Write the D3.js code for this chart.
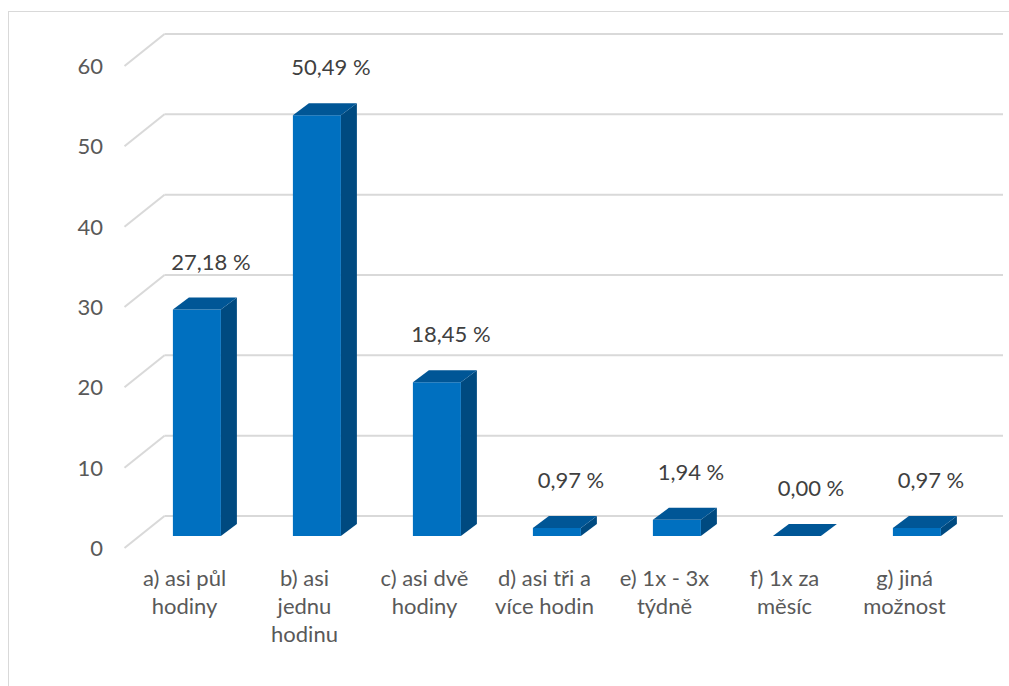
<!DOCTYPE html>
<html>
<head>
<meta charset="utf-8">
<script src="https://cdn.jsdelivr.net/npm/d3@7"></script>
<style>
  body { margin: 0; background: #fff; }
  text { font-family: Lato, "Open Sans", sans-serif; }
</style>
</head>
<body>
<script>
// data
var categories = ["a) asi půl hodiny", "b) asi jednu hodinu", "c) asi dvě hodiny",
    "d) asi tři a více hodin", "e) 1x - 3x týdně", "f) 1x za měsíc", "g) jiná možnost"];
var values = [27.18, 50.49, 18.45, 0.97, 1.94, 0.00, 0.97];
var yTicks = [0, 10, 20, 30, 40, 50, 60];

var svg = d3.select("body")
    .append("svg")
    .attr("width", 1009)
    .attr("height", 686)
    .style("display", "block");

// outer chart border
svg.append("rect")
    .attr("x", 8.5).attr("y", 11.5)
    .attr("width", 1020).attr("height", 700)
    .attr("fill", "none")
    .attr("stroke", "#d9d9d9")
    .attr("stroke-width", 1);

// 3d setup: wall depth vector and bar depth
var wallDx = 40, wallDy = -32;
var barZ = 0.31;          // front face of bars, fraction of floor depth
var barDx = 16, barDy = -12;

var x = d3.scaleBand()
    .domain(categories)
    .range([124.5, 964.5])
    .paddingInner(0.6)
    .paddingOuter(0.3);

// back wall scale
var yWall = d3.scaleLinear().domain([0, 60]).range([516, 34]);
// bar front face scale (slightly bigger, closer to viewer)
var yBar = d3.scaleLinear().domain([0, 60]).range([536, 36]);

// gridlines
var grid = svg.append("g");
grid.selectAll(".gback")
    .data(yTicks)
    .enter()
    .append("line")
    .attr("x1", 124.5 + wallDx)
    .attr("x2", 1003)
    .attr("y1", function (d) { return yWall(d); })
    .attr("y2", function (d) { return yWall(d); })
    .attr("stroke", "#d9d9d9")
    .attr("stroke-width", 2);

grid.selectAll(".gside")
    .data(yTicks)
    .enter()
    .append("line")
    .attr("x1", 124.5)
    .attr("x2", 124.5 + wallDx)
    .attr("y1", function (d) { return yWall(d) - wallDy; })
    .attr("y2", function (d) { return yWall(d); })
    .attr("stroke", "#d9d9d9")
    .attr("stroke-width", 2);

// y labels
svg.selectAll(".ylab")
    .data(yTicks)
    .enter()
    .append("text")
    .attr("x", 103)
    .attr("y", function (d) { return yWall(d) - wallDy + 8; })
    .attr("text-anchor", "end")
    .attr("fill", "#595959")
    .style("font-size", "22px")
    .text(function (d) { return d; });

// bars
var bars = svg.append("g").selectAll("g")
    .data(values)
    .enter()
    .append("g");

function fx(i) { return x(categories[i]) + barZ * wallDx; }
var bw = x.bandwidth();
var base = yBar(0);

// side face
bars.append("path")
    .attr("d", function (d, i) {
        var x1 = fx(i) + bw, t = yBar(d);
        return "M" + x1 + "," + t + "L" + (x1 + barDx) + "," + (t + barDy) +
            "L" + (x1 + barDx) + "," + (base + barDy) + "L" + x1 + "," + base + "Z";
    })
    .attr("fill", "#004a80");

// front face
bars.append("rect")
    .attr("x", function (d, i) { return fx(i); })
    .attr("y", function (d) { return yBar(d); })
    .attr("width", bw)
    .attr("height", function (d) { return base - yBar(d); })
    .attr("fill", "#0070c0");

// top face
bars.append("path")
    .attr("d", function (d, i) {
        var x0 = fx(i), t = yBar(d);
        return "M" + x0 + "," + t + "L" + (x0 + barDx) + "," + (t + barDy) +
            "L" + (x0 + bw + barDx) + "," + (t + barDy) + "L" + (x0 + bw) + "," + t + "Z";
    })
    .attr("fill", "#005696");

// value labels
svg.selectAll(".vlab")
    .data(values)
    .enter()
    .append("text")
    .attr("x", function (d, i) { return fx(i) + bw / 2 + 14; })
    .attr("y", function (d) { return yBar(d) - 40; })
    .attr("text-anchor", "middle")
    .attr("fill", "#404040")
    .style("font-size", "22px")
    .text(function (d) { return d.toFixed(2).replace(".", ",") + " %"; });

// category labels, wrapped to the band
var cat = svg.selectAll(".cat")
    .data(categories)
    .enter()
    .append("text")
    .attr("text-anchor", "middle")
    .attr("fill", "#595959")
    .style("font-size", "22px")
    .each(function (d) {
        var el = d3.select(this);
        var cx = x(d) + bw / 2;
        var words = d.split(" ");
        var lines = [], line = [];
        words.forEach(function (w) {
            line.push(w);
            var t = el.append("tspan").text(line.join(" "));
            if (t.node().getComputedTextLength() > 102 && line.length > 1) {
                line.pop();
                lines.push(line.join(" "));
                line = [w];
            }
            t.remove();
        });
        lines.push(line.join(" "));
        lines.forEach(function (l, k) {
            el.append("tspan")
                .attr("x", cx)
                .attr("y", 586 + k * 28)
                .text(l);
        });
    });
</script>
</body>
</html>
